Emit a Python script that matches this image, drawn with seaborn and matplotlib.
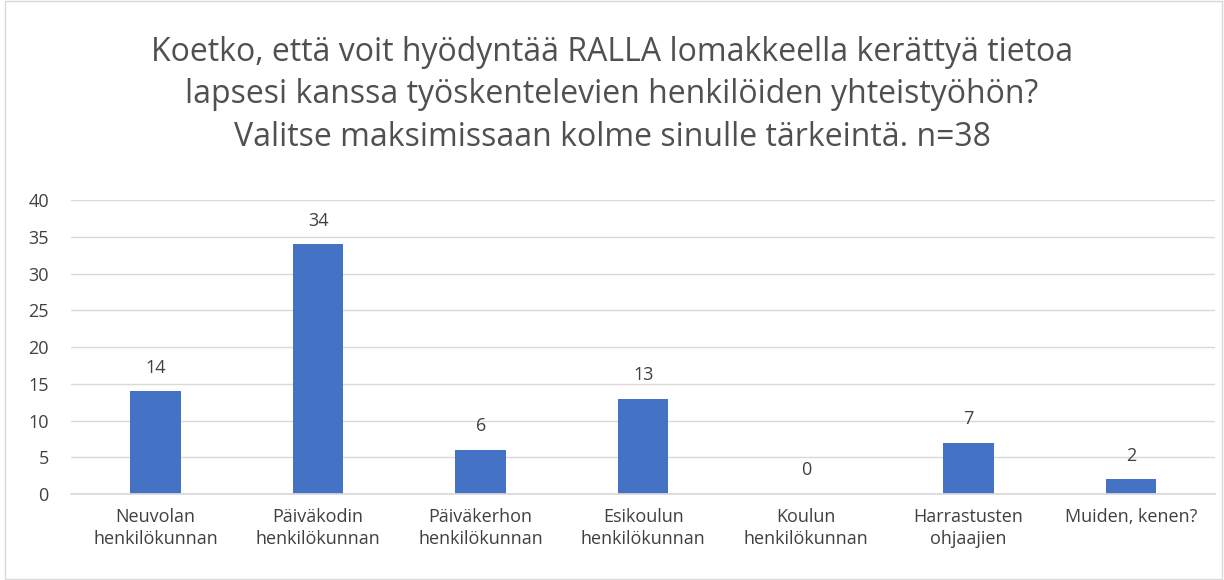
import matplotlib
matplotlib.use("Agg")
import matplotlib.pyplot as plt
import seaborn as sns
import pandas as pd

# chart data
categories = ["Neuvolan\nhenkilökunnan", "Päiväkodin\nhenkilökunnan", "Päiväkerhon\nhenkilökunnan",
              "Esikoulun\nhenkilökunnan", "Koulun\nhenkilökunnan", "Harrastusten\nohjaajien",
              "Muiden, kenen?"]
counts = [14, 34, 6, 13, 0, 7, 2]
y_ticks = [0, 5, 10, 15, 20, 25, 30, 35, 40]
title = ("Koetko, että voit hyödyntää RALLA lomakkeella kerättyä tietoa\n"
         "lapsesi kanssa työskentelevien henkilöiden yhteistyöhön?\n"
         "Valitse maksimissaan kolme sinulle tärkeintä. n=38")

sns.set_theme(style="white")
plt.rcParams['font.family'] = ['Open Sans', 'DejaVu Sans']
txt = "#404040"

df = pd.DataFrame({"kategoria": categories, "lkm": counts})

fig = plt.figure(figsize=(12.24, 5.8), dpi=100)
ax = fig.add_axes([0.058, 0.148, 0.935, 0.507])

sns.barplot(data=df, x="kategoria", y="lkm", color="#4472C4", width=0.31,
            saturation=1, linewidth=0, ax=ax)

ax.set_ylim(0, 40)
ax.set_yticks(y_ticks)
ax.set_xlim(-0.52, len(categories) - 0.48)
ax.yaxis.grid(True, color="#d9d9d9", linewidth=1)
ax.set_axisbelow(True)
for s in ["top", "right", "left"]:
    ax.spines[s].set_visible(False)
ax.spines["bottom"].set_color("#d9d9d9")
ax.tick_params(axis="both", length=0, labelsize=13, colors=txt)
ax.tick_params(axis="x", pad=10)
ax.tick_params(axis="y", pad=16)
ax.set_xlabel("")
ax.set_ylabel("")
for lbl in ax.get_xticklabels():
    lbl.set_linespacing(1.25)

for i, v in enumerate(counts):
    ax.text(i, v + 2.0, str(v), ha="center", va="bottom", fontsize=13, color=txt)

fig.text(0.5, 0.735, title, ha="center", va="bottom", fontsize=23, color="#505050",
         linespacing=1.38)

# thin border around the chart
fig.patches.append(plt.Rectangle((0.004, 0.001), 0.994, 0.998, transform=fig.transFigure,
                                 fill=False, edgecolor="#d9d9d9", linewidth=1))

fig.savefig("out.png", dpi=100)
